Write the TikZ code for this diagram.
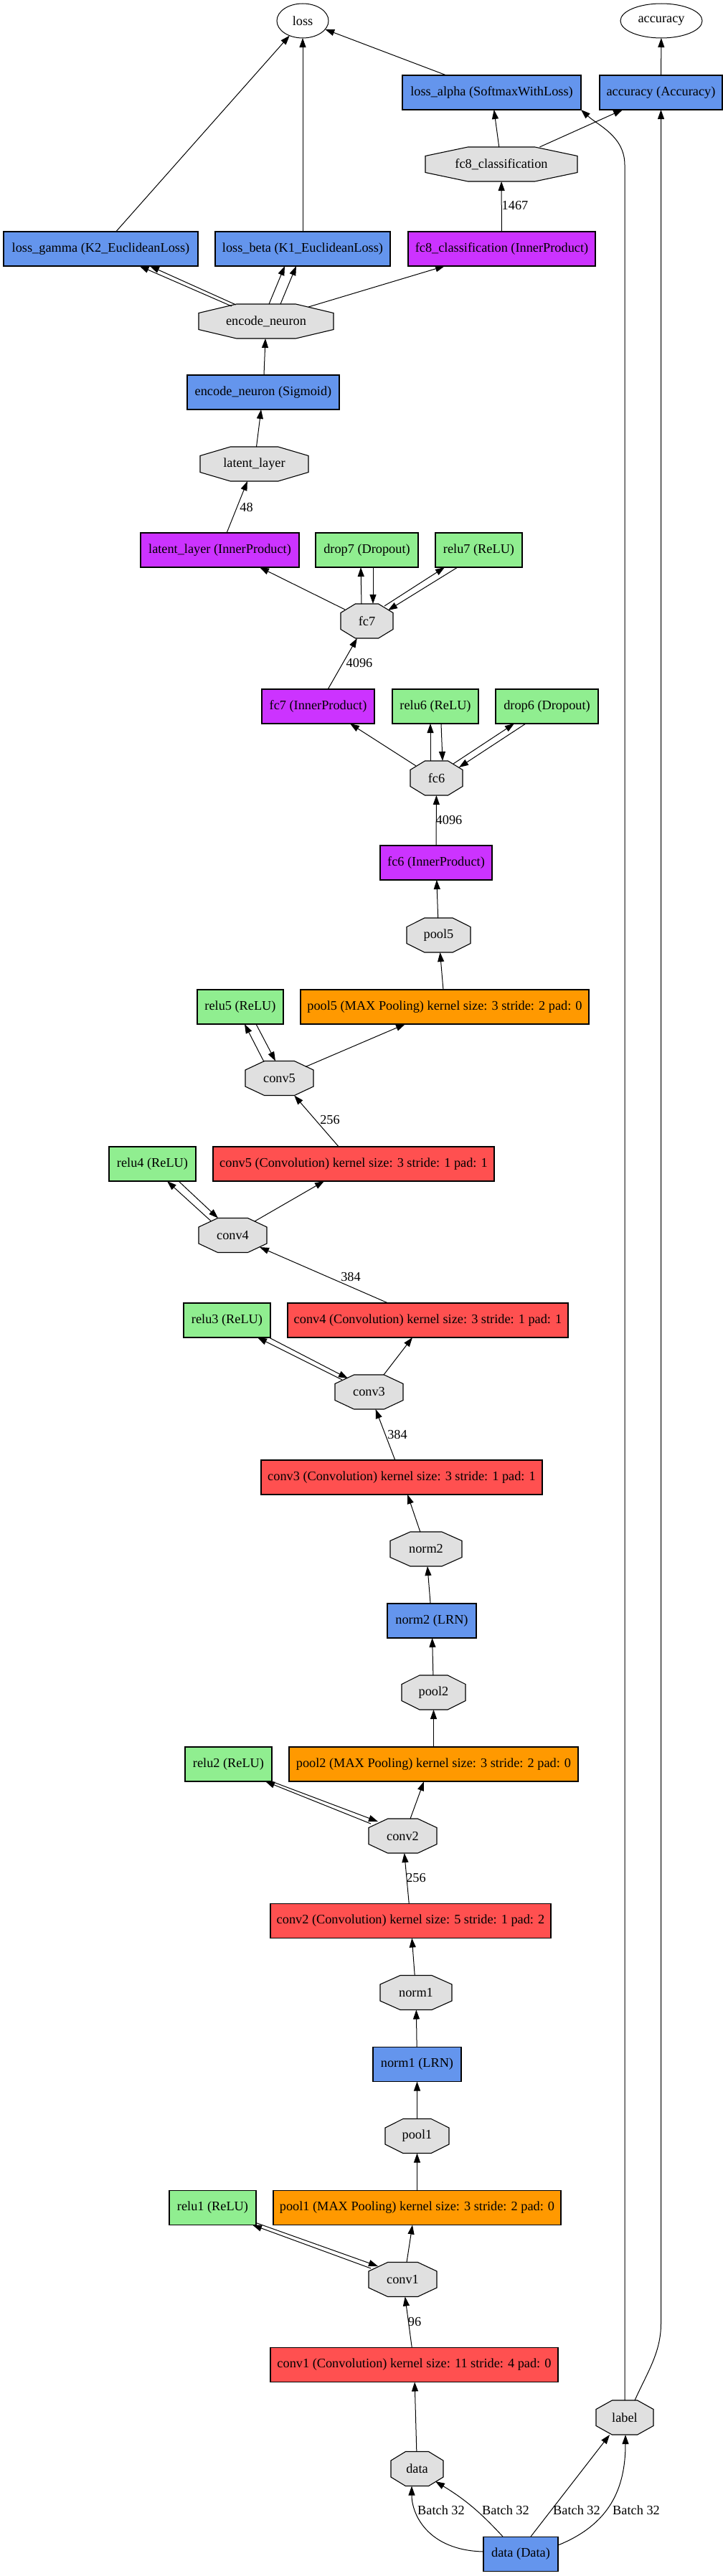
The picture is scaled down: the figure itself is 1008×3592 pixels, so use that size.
\documentclass[tikz,border=0pt]{standalone}
\usepackage{fontspec}
\setmainfont{Liberation Serif}
\usetikzlibrary{arrows.meta,calc,backgrounds,shapes.geometric}
\definecolor{cblue}{HTML}{6495ED}
\definecolor{cpurple}{HTML}{CC33FF}
\definecolor{cgreen}{HTML}{90EE90}
\definecolor{corange}{HTML}{FF9900}
\definecolor{cred}{HTML}{FF5050}
\definecolor{cgray}{HTML}{E0E0E0}
\begin{document}
\begin{tikzpicture}[x=1pt,y=-1pt,
  font=\fontsize{18.3}{21}\selectfont,
  every node/.style={inner sep=0pt, outer sep=0pt},
  lay/.style={rectangle, draw=black, line width=1.1pt, minimum height=48pt},
  blob/.style={rectangle, minimum height=48pt},
  ell/.style={ellipse, draw=black, line width=1pt, minimum height=48pt},
  arr/.style={-{Triangle[length=13pt,width=9pt]}, line width=1pt}]
\useasboundingbox (0,0) rectangle (1008,3592);

% ---- nodes ----
\node[ell, minimum width=72pt] (loss) at (422,29) {loss};
\node[ell, minimum width=114pt] (acc) at (922,29) {accuracy};
\node[lay, fill=cblue, minimum width=249pt] (lossalpha) at (685.5,129) {loss\_alpha (SoftmaxWithLoss)};
\node[lay, fill=cblue, minimum width=171pt] (accbox) at (921.5,129) {accuracy (Accuracy)};
\node[blob, minimum width=212pt] (fc8b) at (699,229) {fc8\_classification};
\node[lay, fill=cblue, minimum width=271pt] (lossgamma) at (140.5,347) {loss\_gamma (K2\_EuclideanLoss)};
\node[lay, fill=cblue, minimum width=244pt] (lossbeta) at (422,347) {loss\_beta (K1\_EuclideanLoss)};
\node[lay, fill=cpurple, minimum width=261pt] (fc8ip) at (699.5,347) {fc8\_classification (InnerProduct)};
\node[blob, minimum width=188pt] (enc) at (371,448) {encode\_neuron};
\node[lay, fill=cblue, minimum width=212pt] (sigm) at (367,547) {encode\_neuron (Sigmoid)};
\node[blob, minimum width=151pt] (latb) at (354.5,647) {latent\_layer};
\node[lay, fill=cpurple, minimum width=221pt] (latip) at (306.5,767) {latent\_layer (InnerProduct)};
\node[lay, fill=cgreen, minimum width=143pt] (drop7) at (511.5,767) {drop7 (Dropout)};
\node[lay, fill=cgreen, minimum width=121pt] (relu7) at (667.5,767) {relu7 (ReLU)};
\node[blob, minimum width=73pt] (fc7b) at (511.5,866) {fc7};
\node[lay, fill=cpurple, minimum width=157pt] (fc7ip) at (443.5,985) {fc7 (InnerProduct)};
\node[lay, fill=cgreen, minimum width=120pt] (relu6) at (607,985) {relu6 (ReLU)};
\node[lay, fill=cgreen, minimum width=143pt] (drop6) at (762.5,985) {drop6 (Dropout)};
\node[blob, minimum width=73pt] (fc6b) at (608.5,1085) {fc6};
\node[lay, fill=cpurple, minimum width=156pt] (fc6ip) at (608,1203) {fc6 (InnerProduct)};
\node[blob, minimum width=89pt] (pool5b) at (611.5,1304) {pool5};
\node[lay, fill=cgreen, minimum width=120pt] (relu5) at (335,1404) {relu5 (ReLU)};
\node[lay, fill=corange, minimum width=402pt] (pool5p) at (620,1404) {pool5 (MAX Pooling) kernel size: 3 stride: 2 pad: 0};
\node[blob, minimum width=95pt] (conv5b) at (389.5,1503.5) {conv5};
\node[lay, fill=cgreen, minimum width=121pt] (relu4) at (212.5,1623) {relu4 (ReLU)};
\node[lay, fill=cred, minimum width=392pt] (conv5c) at (493,1623) {conv5 (Convolution) kernel size: 3 stride: 1 pad: 1};
\node[blob, minimum width=95pt] (conv4b) at (324.5,1722.5) {conv4};
\node[lay, fill=cgreen, minimum width=121pt] (relu3) at (316.5,1841) {relu3 (ReLU)};
\node[lay, fill=cred, minimum width=391pt] (conv4c) at (596.5,1841) {conv4 (Convolution) kernel size: 3 stride: 1 pad: 1};
\node[blob, minimum width=95pt] (conv3b) at (514.5,1941) {conv3};
\node[lay, fill=cred, minimum width=392pt] (conv3c) at (560,2060) {conv3 (Convolution) kernel size: 3 stride: 1 pad: 1};
\node[blob, minimum width=100pt] (norm2b) at (594,2160) {norm2};
\node[lay, fill=cblue, minimum width=124pt] (norm2l) at (602,2260) {norm2 (LRN)};
\node[blob, minimum width=89pt] (pool2b) at (604.5,2360) {pool2};
\node[lay, fill=cgreen, minimum width=121pt] (relu2) at (318.5,2460) {relu2 (ReLU)};
\node[lay, fill=corange, minimum width=403pt] (pool2p) at (604.5,2460) {pool2 (MAX Pooling) kernel size: 3 stride: 2 pad: 0};
\node[blob, minimum width=95pt] (conv2b) at (561.5,2560) {conv2};
\node[lay, fill=cred, minimum width=391pt] (conv2c) at (572.5,2678.5) {conv2 (Convolution) kernel size: 5 stride: 1 pad: 2};
\node[blob, minimum width=100pt] (norm1b) at (580,2778.5) {norm1};
\node[lay, fill=cblue, minimum width=123pt] (norm1l) at (581.5,2878.5) {norm1 (LRN)};
\node[blob, minimum width=89pt] (pool1b) at (581.5,2978.5) {pool1};
\node[lay, fill=cgreen, minimum width=121pt] (relu1) at (296.5,3078.5) {relu1 (ReLU)};
\node[lay, fill=corange, minimum width=401pt] (pool1p) at (581.5,3078.5) {pool1 (MAX Pooling) kernel size: 3 stride: 2 pad: 0};
\node[blob, minimum width=95pt] (conv1b) at (561.5,3178.5) {conv1};
\node[lay, fill=cred, minimum width=401pt] (conv1c) at (577.5,3297.5) {conv1 (Convolution) kernel size: 11 stride: 4 pad: 0};
\node[blob, minimum width=80pt] (labelb) at (871,3371) {label};
\node[blob, minimum width=73pt] (datab) at (581.5,3442.5) {data};
\node[lay, fill=cblue, minimum width=104pt] (dataD) at (726,3561.5) {data (Data)};

\coordinate (turnla) at (871,230);
\coordinate (turnacc) at (921.5,3240);

% ---- edges ----
\draw[arr] (lossalpha) -- (loss);
\draw[arr] (lossgamma) -- (loss);
\draw[arr] (lossbeta) -- (loss);
\draw[arr] (fc8b) -- (lossalpha);
\draw[arr] (fc8b) -- (accbox);
\draw[arr] (labelb.north) -- (turnla) .. controls +(0,-40) and +(24,22) .. (lossalpha.south east);
\draw[arr] ($(labelb.north)+(14,0)$) .. controls +(18,-40) and +(0,40) .. (turnacc) -- (accbox);
\draw[arr] (accbox) -- (acc);
\draw[arr] (fc8ip) -- (fc8b) node at (718,287) {1467};
\draw[arr] ($(enc)+(-48,-21)$) -- ($(lossgamma)+(54,24)$);
\draw[arr] ($(enc)+(-42,-23)$) -- ($(lossgamma)+(68.5,24)$);
\draw[arr] ($(enc)+(4,-24)$) -- ($(lossbeta)+(-25,24)$);
\draw[arr] ($(enc)+(20,-24)$) -- ($(lossbeta)+(-9,24)$);
\draw[arr] ($(enc)+(59,-20)$) -- ($(fc8ip)+(-79.5,24)$);
\draw[arr] (sigm) -- (enc);
\draw[arr] (latb) -- (sigm);
\draw[arr] (latip) -- (latb) node at (343.5,707) {48};
\draw[arr] ($(fc7b)+(-30.5,-16)$) -- ($(latip)+(55.5,24)$);
\draw[arr] ($(fc7b)+(-7.5,-24)$) -- ($(drop7)+(-8.5,24)$);
\draw[arr] ($(drop7)+(8.5,24)$) -- ($(fc7b)+(8.5,-24)$);
\draw[arr] ($(fc7b)+(24.5,-21)$) -- ($(relu7)+(-47.5,24)$);
\draw[arr] ($(relu7)+(-29.5,24)$) -- ($(fc7b)+(29.5,-15)$);
\draw[arr] (fc7ip) -- (fc7b) node at (501,924) {4096};
\draw[arr] ($(fc6b)+(-28.5,-17)$) -- ($(fc7ip)+(44.5,24)$);
\draw[arr] ($(fc6b)+(-8.5,-24)$) -- ($(relu6)+(-7,24)$);
\draw[arr] ($(relu6)+(8,24)$) -- ($(fc6b)+(8.5,-24)$);
\draw[arr] ($(fc6b)+(23.5,-20)$) -- ($(drop6)+(-45.5,24)$);
\draw[arr] ($(drop6)+(-29.5,24)$) -- ($(fc6b)+(31.5,-15)$);
\draw[arr] (fc6ip) -- (fc6b) node at (626,1143) {4096};
\draw[arr] (pool5b) -- (fc6ip);
\draw[arr] (pool5p) -- (pool5b);
\draw[arr] ($(conv5b)+(-21.5,-23)$) -- ($(relu5)+(6,24)$);
\draw[arr] ($(relu5)+(22,24)$) -- ($(conv5b)+(-5.5,-24)$);
\draw[arr] ($(conv5b)+(36.5,-16)$) -- ($(pool5p)+(-55,24)$);
\draw[arr] (conv5c) -- (conv5b) node at (460,1562) {256};
\draw[arr] ($(conv4b)+(-30.5,-20)$) -- ($(relu4)+(20.5,24)$);
\draw[arr] ($(relu4)+(36.5,24)$) -- ($(conv4b)+(-20.5,-24)$);
\draw[arr] ($(conv4b)+(30.5,-19.5)$) -- ($(conv5c)+(-41,24)$);
\draw[arr] ($(conv4c)+(-55.5,-24)$) -- ($(conv4b)+(37.5,16.5)$) node at (489,1780) {384};
\draw[arr] ($(conv3b)+(-37.5,-17)$) -- ($(relu3)+(42.5,24)$);
\draw[arr] ($(relu3)+(58.5,24)$) -- ($(conv3b)+(-29.5,-19)$);
\draw[arr] ($(conv3b)+(20.5,-24)$) -- ($(conv4c)+(-21.5,24)$);
\draw[arr] (conv3c) -- (conv3b) node at (554,2000) {384};
\draw[arr] (norm2b) -- (conv3c);
\draw[arr] (norm2l) -- (norm2b);
\draw[arr] (pool2b) -- (norm2l);
\draw[arr] (pool2p) -- (pool2b);
\draw[arr] ($(conv2b)+(-44.5,-17)$) -- ($(relu2)+(51.5,24)$);
\draw[arr] ($(relu2)+(60,24)$) -- ($(conv2b)+(-34.5,-20)$);
\draw[arr] ($(conv2b)+(10.5,-24)$) -- ($(pool2p)+(-13.5,24)$);
\draw[arr] (conv2c) -- (conv2b) node at (580,2618) {256};
\draw[arr] (norm1b) -- (conv2c);
\draw[arr] (norm1l) -- (norm1b);
\draw[arr] (pool1b) -- (norm1l);
\draw[arr] (pool1p) -- (pool1b);
\draw[arr] ($(conv1b)+(-44.5,-15.5)$) -- ($(relu1)+(55.5,24)$);
\draw[arr] ($(relu1)+(60.5,21)$) -- ($(conv1b)+(-34.5,-18.5)$);
\draw[arr] ($(conv1b)+(5.5,-24)$) -- ($(pool1p)+(-6.5,24)$);
\draw[arr] (conv1c) -- (conv1b) node at (578,3237) {96};
\draw[arr] (datab) -- (conv1c);
\draw[arr] ($(dataD.west)+(0,-3.5)$) .. controls +(-79,-2) and +(0,38) .. ($(datab.south)+(-7.5,0)$) node at (615,3500) {Batch 32};
\draw[arr] ($(dataD)+(-25,-24.5)$) to[bend right=8] ($(datab)+(25.5,17.5)$) node at (705,3500) {Batch 32};
\draw[arr] ($(dataD)+(14,-24.5)$) -- ($(labelb)+(-21,24)$) node at (804,3500) {Batch 32};
\draw[arr] ($(dataD)+(52,-12.5)$) .. controls +(72,-29) and +(0,75) .. ($(labelb)+(1,24)$) node at (887,3500) {Batch 32};

% ---- octagon outlines for blobs ----
\begin{scope}[on background layer]
\fill[white] (0,0) rectangle (1008,3592);
\foreach \n in {fc8b,enc,latb,fc7b,fc6b,pool5b,conv5b,conv4b,conv3b,norm2b,pool2b,conv2b,norm1b,pool1b,conv1b,labelb,datab} {
  \filldraw[fill=cgray, draw=black, line width=1.1pt]
    ($(\n.north west)!0.28!(\n.north east)$) -- ($(\n.north west)!0.72!(\n.north east)$)
    -- ($(\n.north east)!0.26!(\n.south east)$) -- ($(\n.north east)!0.74!(\n.south east)$)
    -- ($(\n.south east)!0.28!(\n.south west)$) -- ($(\n.south east)!0.72!(\n.south west)$)
    -- ($(\n.south west)!0.26!(\n.north west)$) -- ($(\n.south west)!0.74!(\n.north west)$)
    -- cycle;
}
\end{scope}
\end{tikzpicture}
\end{document}
